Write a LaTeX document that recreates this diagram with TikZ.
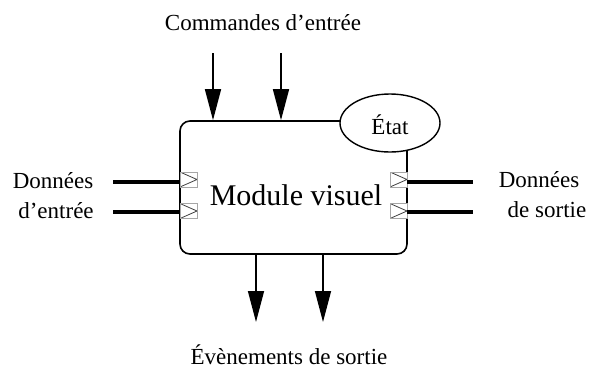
\documentclass[tikz,border=0pt]{standalone}
\usepackage{fontspec}
\setmainfont{Liberation Serif}
\usetikzlibrary{arrows.meta,shapes.geometric}
\tikzstyle{lbl}=[inner sep=0pt,font=\fontsize{23}{28}\selectfont]
\tikzstyle{modbox}=[draw,line width=1.6pt,rounded corners=10pt,minimum width=227pt,minimum height=133pt,inner sep=0pt]
\tikzstyle{etat}=[ellipse,draw,line width=1.4pt,fill=white,minimum width=100pt,minimum height=58pt,inner sep=0pt]
\tikzstyle{port}=[draw=gray!70,line width=0.9pt,fill=white,minimum width=17pt,minimum height=15pt,inner sep=0pt,
  path picture={\draw[black!75,line width=0.8pt] (path picture bounding box.north west) -- (path picture bounding box.east) -- (path picture bounding box.south west);}]
\tikzstyle{ctrl}=[line width=1.5pt,-{Triangle[length=31pt,width=16pt]}]
\tikzstyle{dataline}=[line width=3.2pt]

\begin{document}
\begin{tikzpicture}[x=1pt,y=-1pt]
\useasboundingbox (0,0) rectangle (590,368);
\node[modbox] at (293.5,187.5) (module) {};
\node[etat] at (390,123) (state) {};
\node[lbl] at (390,125) (statetxt) {État};
\node[lbl,font=\fontsize{30}{36}\selectfont,anchor=base] at (296,205) (modtxt) {Module visuel};

% ports on both sides
\node[port] at (188.5,179.5) (pin1) {};
\node[port] at (188.5,211) (pin2) {};
\node[port] at (398.5,179.5) (pout1) {};
\node[port] at (398.5,211) (pout2) {};

\coordinate (din1) at (113,182);
\coordinate (din2) at (113,212);
\coordinate (dout1) at (473,182);
\coordinate (dout2) at (473,212);
\draw[dataline] (din1) -- (pin1.west |- din1);
\draw[dataline] (din2) -- (pin2.west |- din2);
\draw[dataline] (pout1.east |- dout1) -- (dout1);
\draw[dataline] (pout2.east |- dout2) -- (dout2);

% commands in, events out
\coordinate (cmd1) at (213,53);
\coordinate (cmd2) at (281,53);
\coordinate (evt1) at (256,322);
\coordinate (evt2) at (323,322);
\draw[ctrl] (cmd1) -- (cmd1 |- module.north);
\draw[ctrl] (cmd2) -- (cmd2 |- module.north);
\draw[ctrl] (evt1 |- module.south) -- (evt1);
\draw[ctrl] (evt2 |- module.south) -- (evt2);

\node[lbl,anchor=base] at (263,30) (cmdtxt) {Commandes d’entrée};
\node[lbl,anchor=base] at (289,364) (evttxt) {Évènements de sortie};
\node[lbl,anchor=base] at (53,188) (intxt1) {Données};
\node[lbl,anchor=base] at (56,218) (intxt2) {d’entrée};
\node[lbl,anchor=base] at (539,187) (outtxt1) {Données};
\node[lbl,anchor=base] at (547,217) (outtxt2) {de sortie};
\end{tikzpicture}
\end{document}
